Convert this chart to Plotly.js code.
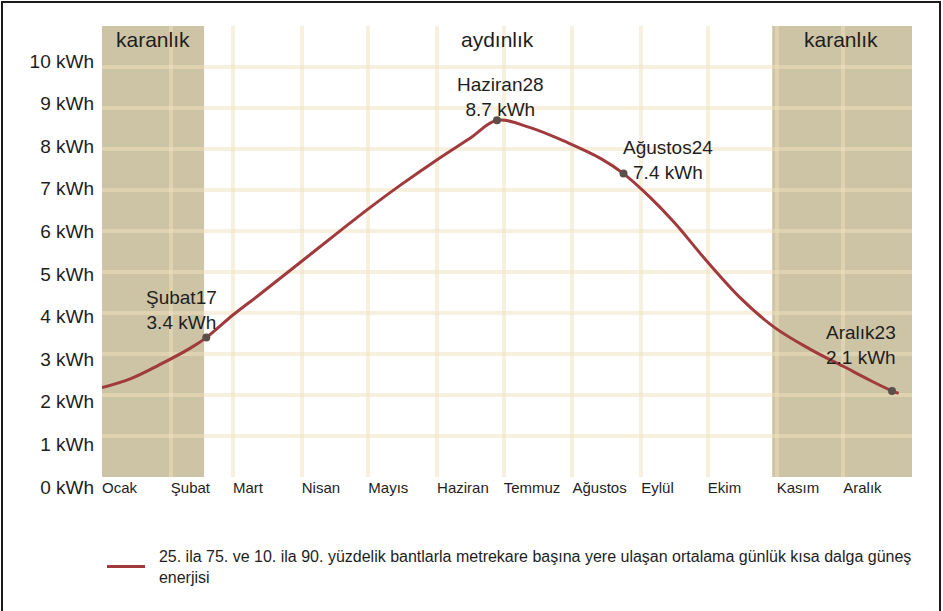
<!DOCTYPE html>
<html>
<head>
<meta charset="utf-8">
<script src="https://cdn.plot.ly/plotly-3.0.1.min.js"></script>
<style>
html,body{margin:0;padding:0;background:#fff;}
#chart{width:943px;height:611px;}
#frame{position:absolute;left:1px;top:1px;width:940px;height:640px;border:2px solid #1a1a1a;box-sizing:border-box;pointer-events:none;}
</style>
</head>
<body>
<div id="chart"></div>
<div id="frame"></div>
<script>
// ---------- data ----------
const monthStarts = ['2023-01-01','2023-02-01','2023-03-01','2023-04-01','2023-05-01','2023-06-01',
                     '2023-07-01','2023-08-01','2023-09-01','2023-10-01','2023-11-01','2023-12-01'];
const monthNames = ['Ocak','Şubat','Mart','Nisan','Mayıs','Haziran','Temmuz','Ağustos','Eylül','Ekim','Kasım','Aralık'];

const curveDates = ['2023-01-01','2023-01-14','2023-01-27','2023-02-10','2023-02-17','2023-03-01','2023-03-13',
                    '2023-03-31','2023-04-18','2023-05-01','2023-05-15','2023-06-01','2023-06-16','2023-06-28',
                    '2023-07-13','2023-07-30','2023-08-14','2023-08-24','2023-09-05','2023-09-16','2023-09-30',
                    '2023-10-16','2023-10-31','2023-11-16','2023-12-01','2023-12-13','2023-12-23','2023-12-26'];
const curveValues = [2.18, 2.40, 2.74, 3.15, 3.40, 3.95, 4.45,
                     5.22, 5.99, 6.54, 7.10, 7.74, 8.27, 8.70,
                     8.52, 8.15, 7.76, 7.40, 6.82, 6.20, 5.30,
                     4.35, 3.65, 3.12, 2.70, 2.36, 2.10, 2.04];

const keyDates  = ['2023-02-17','2023-06-28','2023-08-24','2023-12-23'];
const keyValues = [3.4, 8.7, 7.4, 2.1];
const keyNames  = ['Şubat17','Haziran28','Ağustos24','Aralık23'];

const darkStarts = ['2023-01-01','2023-10-30'];
const darkEnds   = ['2023-02-16','2024-01-01'];
const periodLabels = ['karanlık','aydınlık','karanlık'];
const periodLabelDates = ['2023-01-24','2023-06-28','2023-11-30'];

const yTickValues = [0,1,2,3,4,5,6,7,8,9,10];
const yTickText = yTickValues.map(v => v + ' kWh');
const seriesName = '\u00a0\u00a025. ila 75. ve 10. ila 90. yüzdelik bantlarla metrekare başına yere ulaşan ortalama günlük kısa dalga güneş<br>\u00a0\u00a0enerjisi';

// ---------- style ----------
const FONT = "'Liberation Sans', Arial, sans-serif";
const TXT = '#1e1e1e';
const GRID = 'rgba(240,225,190,0.5)';
const BAND = '#cdc3a5';
const LINE = '#a13a3c';
// label pixel offsets [dx, dy]
const labelOffsets = [[-25,28],[3,23],[44,14],[-31,46]];

const traces = [
  {x: curveDates, y: curveValues, type: 'scatter', mode: 'lines', name: seriesName,
   line: {color: LINE, width: 3, shape: 'spline', smoothing: 1}, hoverinfo: 'skip'},
  {x: keyDates, y: keyValues, type: 'scatter', mode: 'markers', showlegend: false,
   marker: {color: '#5a5049', size: 8}, hoverinfo: 'skip'},
  {x: [], y: [], xaxis: 'x2', yaxis: 'y2', type: 'scatter', mode: 'markers', showlegend: false, hoverinfo: 'skip'}
];

const shapes = darkStarts.map((s, i) => ({
  type: 'rect', xref: 'x', yref: 'y', x0: s, x1: darkEnds[i], y0: 0, y1: 11,
  fillcolor: BAND, line: {width: 0}, layer: 'below'
}));

const annotations = [];
periodLabels.forEach((t, i) => annotations.push({
  text: t, x: periodLabelDates[i], y: 10.68, xref: 'x', yref: 'y', showarrow: false,
  xanchor: 'center', yanchor: 'middle', font: {family: FONT, size: 21, color: TXT}
}));
keyNames.forEach((n, i) => {
  const o = labelOffsets[i];
  annotations.push({text: n + '<br>' + keyValues[i].toFixed(1) + ' kWh', x: keyDates[i], y: keyValues[i],
    xref: 'x', yref: 'y', showarrow: false, align: 'center',
    xanchor: 'center', yanchor: 'middle', xshift: o[0], yshift: o[1], font: {family: FONT, size: 19, color: TXT}});
});

const layout = {
  width: 943, height: 611,
  margin: {l: 102, r: 31, t: 26, b: 116, pad: 0},
  paper_bgcolor: '#ffffff', plot_bgcolor: 'rgba(0,0,0,0)',
  font: {family: FONT, color: TXT},
  showlegend: true,
  legend: {x: 0.0, xanchor: 'left', y: -0.094, yanchor: 'top', orientation: 'v',
           font: {family: FONT, size: 16, color: TXT}, itemwidth: 38, bgcolor: 'rgba(0,0,0,0)'},
  xaxis: {type: 'date', range: ['2023-01-01', '2024-01-01'], anchor: 'y',
          tickmode: 'array', tickvals: monthStarts.concat(['2024-01-01']), ticktext: monthNames.concat(['']),
          ticklabelposition: 'outside right', tickangle: 0, ticks: '', showline: false, zeroline: false,
          showgrid: true, gridcolor: GRID, gridwidth: 4,
          tickfont: {family: FONT, size: 15, color: TXT}, fixedrange: true},
  yaxis: {domain: [0.0384, 1], range: [0, 11], tickmode: 'linear', tick0: 0, dtick: 1,
          showticklabels: false, ticks: '', showline: false, zeroline: false,
          showgrid: true, gridcolor: GRID, gridwidth: 4, fixedrange: true},
  xaxis2: {domain: [0, 1], anchor: 'y2', visible: false, showgrid: false, range: [0, 1]},
  yaxis2: {domain: [0, 1], anchor: 'x2', range: [-0.188, 10.822], tickmode: 'array',
           tickvals: yTickValues, ticktext: yTickText, showgrid: false, zeroline: false, showline: false,
           ticks: '', ticklabelstandoff: 7, tickfont: {family: FONT, size: 19, color: TXT}, fixedrange: true},
  shapes: shapes,
  annotations: annotations
};

Plotly.newPlot('chart', traces, layout, {displayModeBar: false, staticPlot: true});
</script>
</body>
</html>
